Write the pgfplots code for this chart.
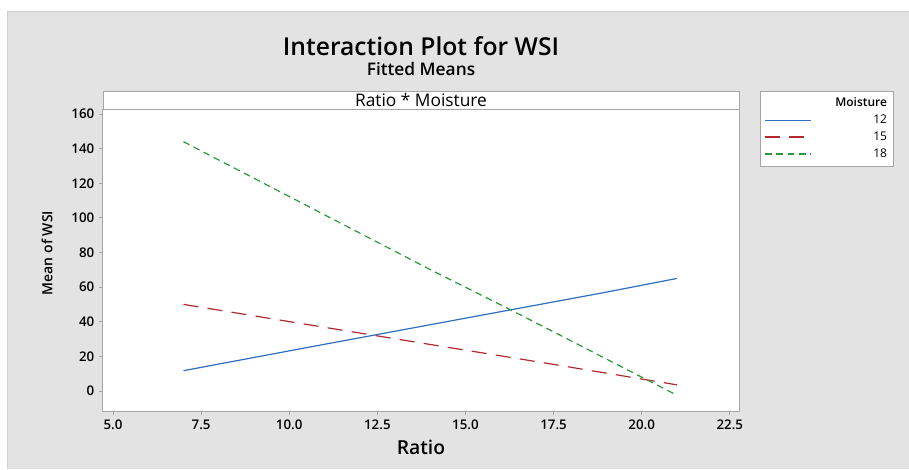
\documentclass[border=0pt]{standalone}
\usepackage{fontspec}
\setmainfont{Open Sans}
\newfontfamily\semib{Open Sans}[UprightFont={* Semibold}]
\usepackage{pgfplots}
\pgfplotsset{compat=1.18}
\definecolor{bg}{HTML}{E3E3E3}
\definecolor{bgline}{HTML}{D0D0D0}
\definecolor{framec}{HTML}{A6A6A6}
\definecolor{cblue}{HTML}{2E6FBF}
\definecolor{cred}{HTML}{B22A2E}
\definecolor{cgreen}{HTML}{2A9A3A}
\begin{document}
\begin{tikzpicture}
\path[use as bounding box] (0,0) rectangle (681.75pt,351.75pt);
\fill[white] (0,0) rectangle (681.75pt,351.75pt);
\fill[bg] (5.25pt,0) rectangle (681.75pt,342.75pt);
\draw[bgline, line width=0.75pt] (5.25pt,0) -- (5.25pt,342.75pt) -- (681.75pt,342.75pt);
\draw[framec, fill=white, line width=0.75pt] (77.25pt,270pt) rectangle (554.25pt,283.5pt);
\node[font=\fontsize{13}{15}\selectfont] at (315.75pt,276.75pt) {Ratio * Moisture};
\node[font=\fontsize{18.5}{22}\semib] at (315.75pt,317pt) {Interaction Plot for WSI};
\node[font=\fontsize{13}{15}\semib] at (315.75pt,300.25pt) {Fitted Means};
\begin{axis}[
  at={(77.25pt,43.5pt)}, anchor=south west,
  scale only axis, width=477pt, height=226.5pt,
  xmin=4.716, xmax=22.76, ymin=-11.6, ymax=162.9,
  axis background/.style={fill=white},
  axis line style={framec, line width=0.75pt},
  xtick={5,7.5,10,12.5,15,17.5,20,22.5},
  ytick={0,20,40,60,80,100,120,140,160},
  tick align=outside, tick pos=left,
  major tick length=3pt,
  tick style={framec, line width=0.6pt},
  /pgf/number format/assume math mode=true,
  xticklabel style={/pgf/number format/fixed, /pgf/number format/fixed zerofill, /pgf/number format/precision=1},
  ticklabel style={font=\fontsize{10}{12}\semib},
  xlabel={Ratio},
  xlabel style={at={(axis description cs:0.5,-0.119)}, anchor=center, font=\fontsize{14.5}{17}\semib},
  ylabel={Mean of WSI},
  ylabel style={at={(axis description cs:-0.088,0.523)}, anchor=center, font=\fontsize{10.5}{12}\semib},
  legend style={at={(1.033,1.0596)}, anchor=north west, draw=framec, fill=white,
    font=\fontsize{9}{11}\selectfont, row sep=0.6pt, inner ysep=3pt, inner xsep=3pt,
    /tikz/every odd column/.append style={column sep=14.5pt}},
  legend cell align=right,
]
\addlegendimage{empty legend}
\addlegendentry{\makebox[40pt][r]{\semib Moisture}}
\addlegendimage{legend image code/.code={\draw[cblue, line width=1.1pt] (0pt,0pt) -- (34.5pt,0pt);}}
\addlegendentry{\makebox[40pt][r]{12}}
\addlegendimage{legend image code/.code={\draw[cred, line width=1.1pt, dash pattern=on 11.25pt off 7pt] (0pt,0pt) -- (34.5pt,0pt);}}
\addlegendentry{\makebox[40pt][r]{15}}
\addlegendimage{legend image code/.code={\draw[cgreen, line width=1.1pt, dash pattern=on 5pt off 3.5pt] (0pt,0pt) -- (34.5pt,0pt);}}
\addlegendentry{\makebox[40pt][r]{18}}
\addplot[cblue, line width=0.9pt, forget plot] coordinates {(7,11.7) (10.54,25.2) (14.7,40.9) (18.95,56.9) (21,65)};
\addplot[cred, line width=0.9pt, dash pattern=on 11.25pt off 7pt, forget plot] coordinates {(7,50) (13.8,27.5) (17.3,16) (21,3.5)};
\addplot[cgreen, line width=0.9pt, dash pattern=on 5pt off 3.5pt, forget plot] coordinates {(7,144) (14,70.1) (16.26,47.1) (21,-2.5)};
\end{axis}
\end{tikzpicture}
\end{document}
